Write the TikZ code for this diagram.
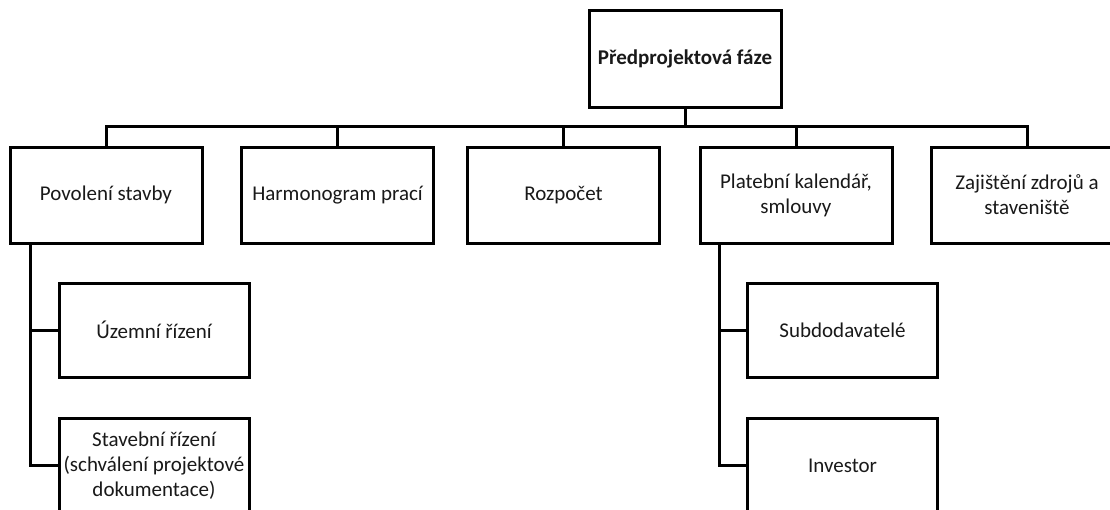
\documentclass[tikz,border=0pt]{standalone}
\usepackage{fontspec}
\setmainfont{Carlito}
\begin{document}
\begin{tikzpicture}[x=1pt,y=-1pt,
  box/.style={draw=black,line width=3pt,fill=white,rectangle,align=center,
    inner sep=1pt,font=\fontsize{21}{25}\selectfont,text=black!90},
  rowbox/.style={box,minimum width=192pt,minimum height=96pt},
  subbox/.style={box,minimum width=190pt,minimum height=94pt},
  conn/.style={draw=black,line width=3pt}]
\useasboundingbox (0,0) rectangle (1110,509);
\clip (0,0) rectangle (1110,509);
\node[box,minimum width=192pt,minimum height=97pt,font=\fontsize{21}{25}\selectfont\bfseries] (top) at (685,58.5) {Předprojektová fáze};
\node[rowbox] (pov) at (106,195) {Povolení stavby};
\node[rowbox] (harm) at (337.5,195) {Harmonogram prací};
\node[rowbox] (roz) at (563.5,195) {Rozpočet};
\node[rowbox] (plat) at (796,195) {Platební kalendář,\\smlouvy};
\node[rowbox] (zaj) at (1027,195) {Zajištění zdrojů a\\staveniště};
\node[subbox] (uz) at (154,330) {Územní řízení};
\node[subbox] (stav) at (154,465.5) {Stavební řízení\\(schválení projektové\\dokumentace)};
\node[subbox] (sub) at (842.5,330) {Subdodavatelé};
\node[subbox] (inv) at (842.5,465.5) {Investor};
\coordinate (bus) at (685,126);
\draw[conn] (top.south) -- (bus);
\draw[conn] (pov.north) |- (bus) -| (zaj.north);
\draw[conn] (harm.north) -- (harm.north |- bus);
\draw[conn] (roz.north) -- (roz.north |- bus);
\draw[conn] (plat.north) -- (plat.north |- bus);
\coordinate (ltrunk) at (30,243);
\coordinate (rtrunk) at (719,243);
\draw[conn] (ltrunk) |- (stav.west);
\draw[conn] (ltrunk |- uz.west) -- (uz.west);
\draw[conn] (rtrunk) |- (inv.west);
\draw[conn] (rtrunk |- sub.west) -- (sub.west);
\end{tikzpicture}
\end{document}
